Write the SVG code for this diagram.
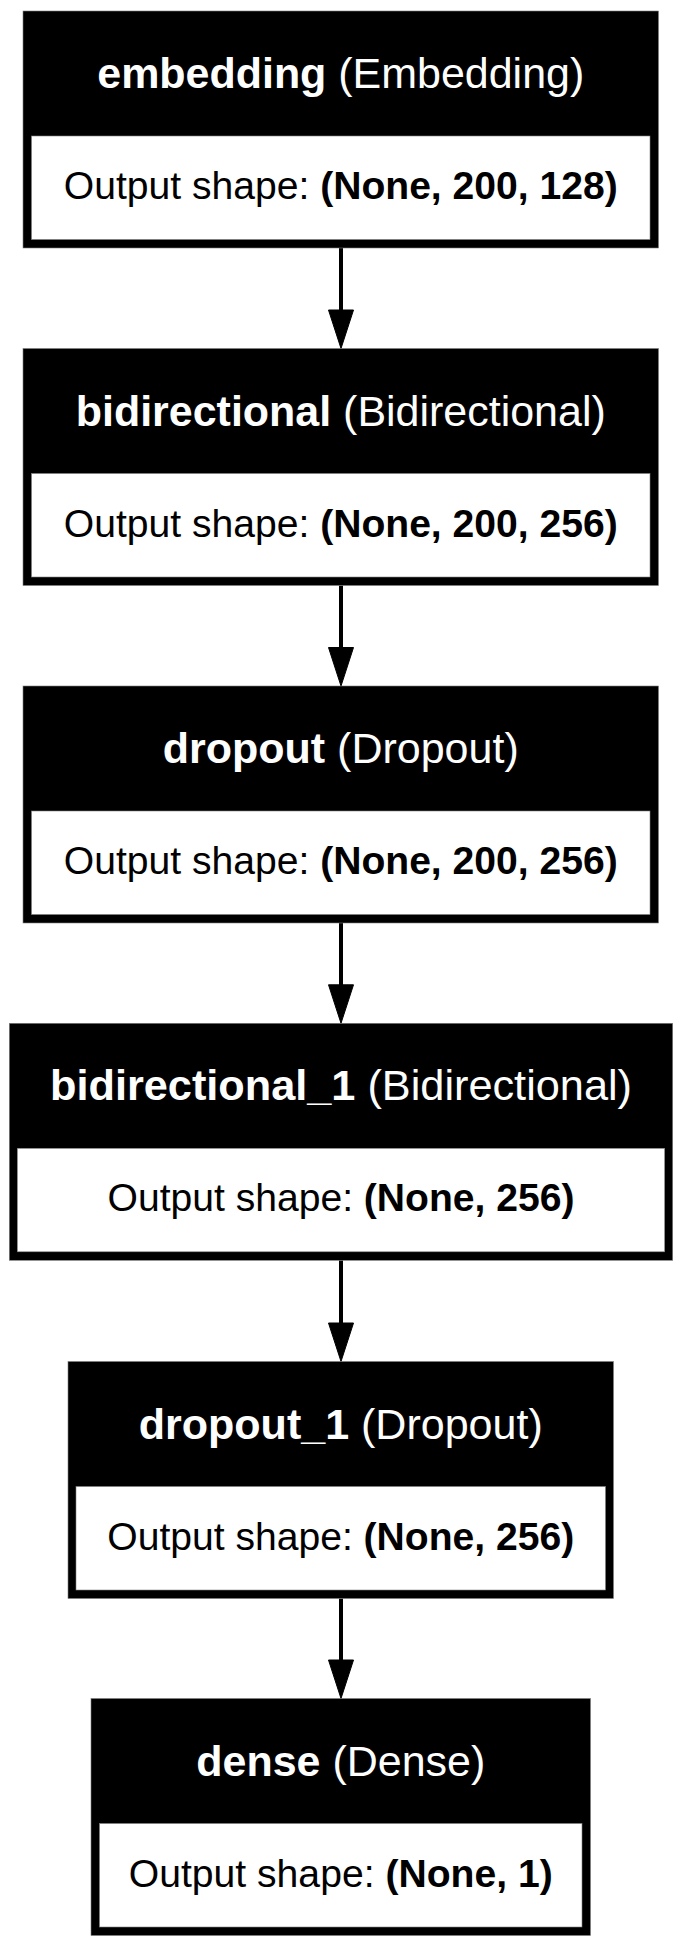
<svg xmlns="http://www.w3.org/2000/svg" width="682" height="1947" viewBox="0 0 682 1947">
<style>
.bg{fill:#ffffff}
.outer{fill:#000000;stroke:#7f7f7f;stroke-width:0.6}
.inner{fill:#ffffff;stroke:#7f7f7f;stroke-width:0.6}
.title{font-family:"Liberation Sans",Arial,sans-serif;font-size:43px;fill:#ffffff;text-anchor:middle}
.shape{font-family:"Liberation Sans",Arial,sans-serif;font-size:38px;fill:#000000;text-anchor:middle}
.b{font-weight:bold}
.edge{stroke:#000000;stroke-width:4;fill:none}
.head{fill:#000000;stroke:#000000;stroke-width:1}
</style>
<rect class="bg" x="0" y="0" width="682" height="1947"/>
<g id="connectors">
  <line class="edge" x1="341" y1="248" x2="341" y2="312"/>
  <polygon class="head" points="328.5,310 353.5,310 341,348.5"/>
  <line class="edge" x1="341" y1="585.5" x2="341" y2="649"/>
  <polygon class="head" points="328.5,647.5 353.5,647.5 341,686"/>
  <line class="edge" x1="341" y1="923" x2="341" y2="986"/>
  <polygon class="head" points="328.5,984.8 353.5,984.8 341,1023.3"/>
  <line class="edge" x1="341" y1="1260.3" x2="341" y2="1324"/>
  <polygon class="head" points="328.5,1323 353.5,1323 341,1361.5"/>
  <line class="edge" x1="341" y1="1598.5" x2="341" y2="1662"/>
  <polygon class="head" points="328.5,1660 353.5,1660 341,1698.5"/>
</g>
<g id="embedding">
  <rect class="outer" x="23" y="11" width="635.5" height="237"/>
  <rect class="inner" x="31.5" y="136" width="618.5" height="103.5"/>
  <text class="title" x="340.75" y="88" textLength="487" lengthAdjust="spacingAndGlyphs"><tspan class="b">embedding</tspan> (Embedding)</text>
  <text class="shape" x="340.75" y="199" textLength="554" lengthAdjust="spacingAndGlyphs">Output shape: <tspan class="b">(None, 200, 128)</tspan></text>
</g>
<g id="bidirectional">
  <rect class="outer" x="23" y="348.5" width="635.5" height="237"/>
  <rect class="inner" x="31.5" y="473.5" width="618.5" height="103.5"/>
  <text class="title" x="340.75" y="425.5" textLength="530" lengthAdjust="spacingAndGlyphs"><tspan class="b">bidirectional</tspan> (Bidirectional)</text>
  <text class="shape" x="340.75" y="536.5" textLength="554" lengthAdjust="spacingAndGlyphs">Output shape: <tspan class="b">(None, 200, 256)</tspan></text>
</g>
<g id="dropout">
  <rect class="outer" x="23" y="686" width="635.5" height="237"/>
  <rect class="inner" x="31.5" y="811" width="618.5" height="103.5"/>
  <text class="title" x="340.75" y="763" textLength="356" lengthAdjust="spacingAndGlyphs"><tspan class="b">dropout</tspan> (Dropout)</text>
  <text class="shape" x="340.75" y="874" textLength="554" lengthAdjust="spacingAndGlyphs">Output shape: <tspan class="b">(None, 200, 256)</tspan></text>
</g>
<g id="bidirectional_1">
  <rect class="outer" x="9.3" y="1023.3" width="663.4" height="237"/>
  <rect class="inner" x="17.3" y="1148.3" width="647.4" height="103.5"/>
  <text class="title" x="341" y="1100.3" textLength="582" lengthAdjust="spacingAndGlyphs"><tspan class="b">bidirectional_1</tspan> (Bidirectional)</text>
  <text class="shape" x="341" y="1211.3" textLength="467" lengthAdjust="spacingAndGlyphs">Output shape: <tspan class="b">(None, 256)</tspan></text>
</g>
<g id="dropout_1">
  <rect class="outer" x="68" y="1361.5" width="545.5" height="237"/>
  <rect class="inner" x="76" y="1486.5" width="529.5" height="103.5"/>
  <text class="title" x="340.75" y="1438.5" textLength="404" lengthAdjust="spacingAndGlyphs"><tspan class="b">dropout_1</tspan> (Dropout)</text>
  <text class="shape" x="340.75" y="1549.5" textLength="467" lengthAdjust="spacingAndGlyphs">Output shape: <tspan class="b">(None, 256)</tspan></text>
</g>
<g id="dense">
  <rect class="outer" x="91" y="1698.5" width="499.5" height="237"/>
  <rect class="inner" x="99.5" y="1823.5" width="482.5" height="103.5"/>
  <text class="title" x="340.75" y="1775.5" textLength="289" lengthAdjust="spacingAndGlyphs"><tspan class="b">dense</tspan> (Dense)</text>
  <text class="shape" x="340.75" y="1886.5" textLength="424" lengthAdjust="spacingAndGlyphs">Output shape: <tspan class="b">(None, 1)</tspan></text>
</g>
</svg>
